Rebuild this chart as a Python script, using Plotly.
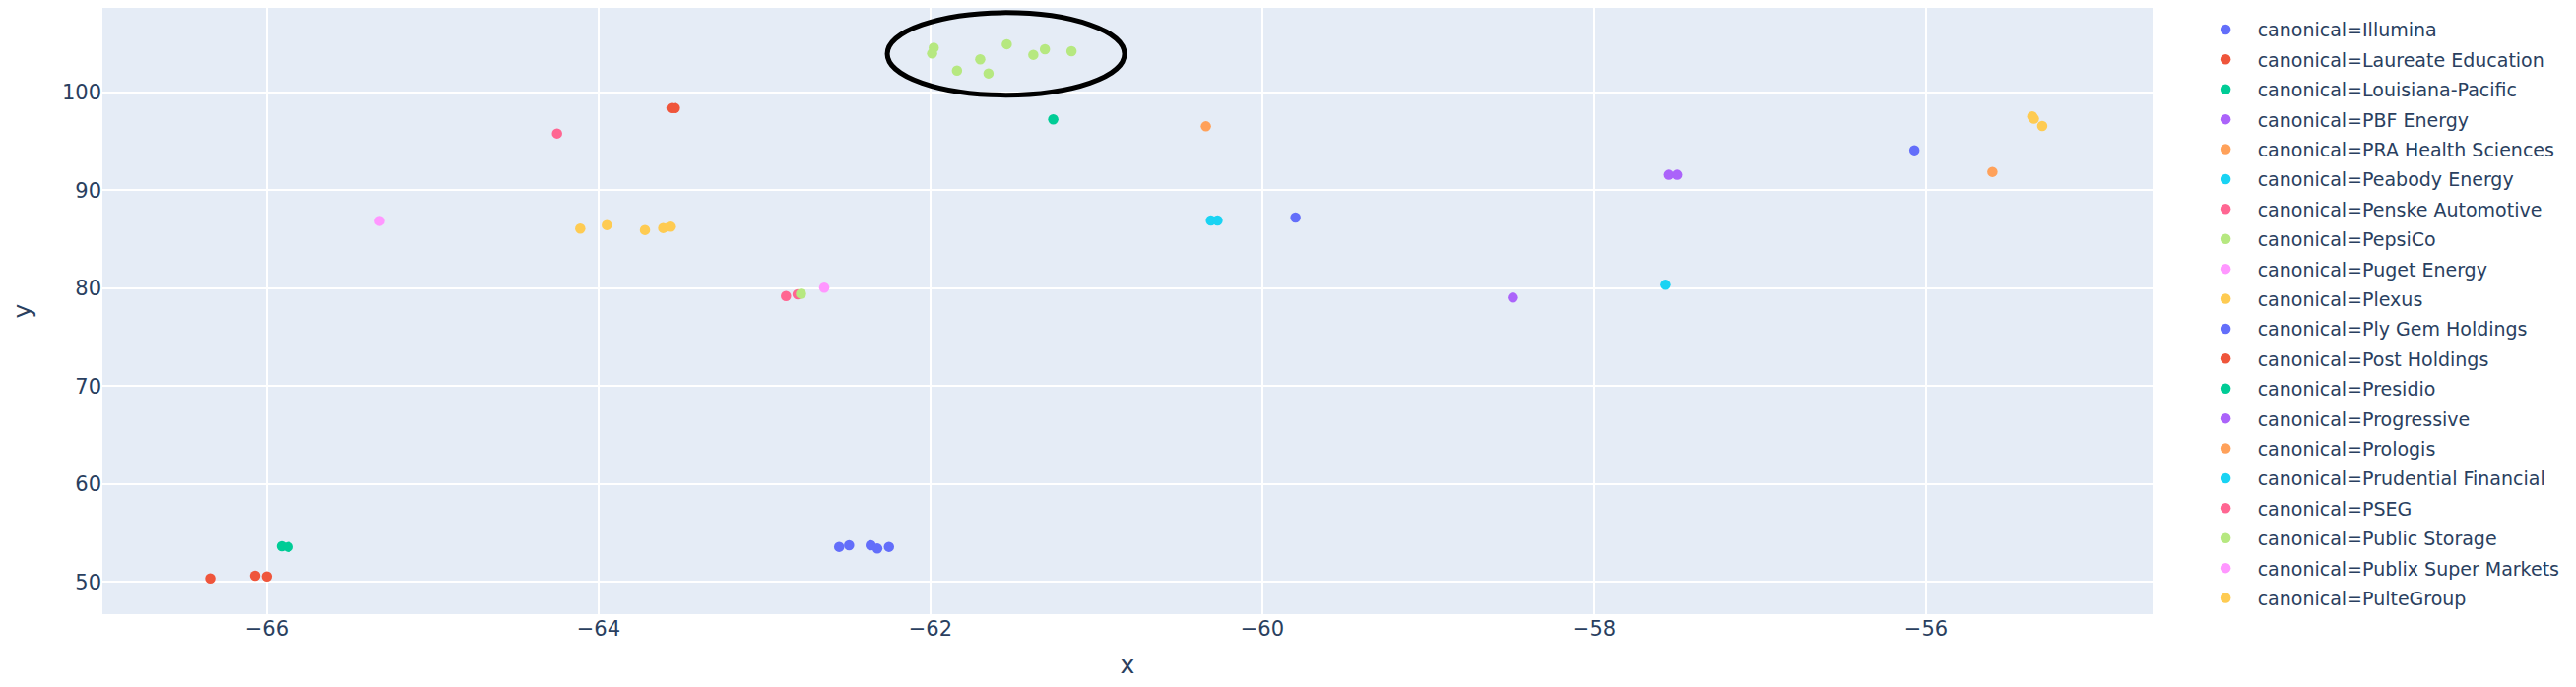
import plotly.graph_objects as go

# --- data (one list per company) ---
companies = [
    "Illumina", "Laureate Education", "Louisiana-Pacific", "PBF Energy",
    "PRA Health Sciences", "Peabody Energy", "Penske Automotive", "PepsiCo",
    "Puget Energy", "Plexus", "Ply Gem Holdings", "Post Holdings", "Presidio",
    "Progressive", "Prologis", "Prudential Financial", "PSEG", "Public Storage",
    "Publix Super Markets", "PulteGroup",
]

illumina_x = [-59.80, -56.07]
illumina_y = [87.23, 94.10]
laureate_x = [-63.56, -63.54]
laureate_y = [98.42, 98.42]
louisiana_x = [-61.26]
louisiana_y = [97.25]
pbf_x = [-58.49]
pbf_y = [79.05]
pra_x = [-60.34]
pra_y = [96.54]
peabody_x = [-60.31, -60.27]
peabody_y = [86.93, 86.93]
penske_x = [-64.25]
penske_y = [95.81]
pepsico_x = [-61.98, -61.99, -61.84, -61.70, -61.65, -61.54, -61.38, -61.31, -61.15]
pepsico_y = [104.58, 103.98, 102.24, 103.38, 101.94, 104.93, 103.85, 104.42, 104.22]
puget_x = [-65.32]
puget_y = [86.89]
plexus_x = [-64.11, -63.95, -63.72, -63.61, -63.57]
plexus_y = [86.09, 86.46, 85.96, 86.16, 86.29]
plygem_x = [-62.55, -62.49, -62.36, -62.32, -62.25]
plygem_y = [53.59, 53.76, 53.76, 53.42, 53.59]
post_x = [-66.34, -66.07, -66.00]
post_y = [50.37, 50.64, 50.57]
presidio_x = [-65.91, -65.87]
presidio_y = [53.66, 53.59]
progressive_x = [-57.55, -57.50]
progressive_y = [91.59, 91.59]
prologis_x = [-55.60]
prologis_y = [91.89]
prudential_x = [-57.57]
prudential_y = [80.36]
pseg_x = [-62.87, -62.80]
pseg_y = [79.22, 79.39]
public_storage_x = [-62.78]
public_storage_y = [79.45]
publix_x = [-62.64]
publix_y = [80.06]
pulte_x = [-55.36, -55.35, -55.30]
pulte_y = [97.55, 97.32, 96.58]

series = [
    (illumina_x, illumina_y), (laureate_x, laureate_y), (louisiana_x, louisiana_y),
    (pbf_x, pbf_y), (pra_x, pra_y), (peabody_x, peabody_y), (penske_x, penske_y),
    (pepsico_x, pepsico_y), (puget_x, puget_y), (plexus_x, plexus_y),
    (plygem_x, plygem_y), (post_x, post_y), (presidio_x, presidio_y),
    (progressive_x, progressive_y), (prologis_x, prologis_y),
    (prudential_x, prudential_y), (pseg_x, pseg_y),
    (public_storage_x, public_storage_y), (publix_x, publix_y), (pulte_x, pulte_y),
]

palette = ["#636EFA", "#EF553B", "#00CC96", "#AB63FA", "#FFA15A",
           "#19D3F3", "#FF6692", "#B6E880", "#FF97FF", "#FECB52"]

fig = go.Figure()
for i, (name, (xs, ys)) in enumerate(zip(companies, series)):
    label = f"canonical={name}"
    fig.add_trace(go.Scatter(
        x=xs, y=ys, mode="markers",
        name=label, legendgroup=label,
        marker=dict(color=palette[i % len(palette)], size=10.5),
    ))

# circle around the PepsiCo cluster
fig.add_shape(type="circle", xref="x", yref="y",
              x0=-62.26, x1=-60.83, y0=99.73, y1=108.15,
              line=dict(color="black", width=5))

fig.update_layout(
    template="plotly",
    width=2600, height=682,
    margin=dict(l=96, r=422, t=0, b=66),
    font=dict(family="DejaVu Sans", size=21),
    xaxis=dict(title=dict(text="x", font=dict(size=25), standoff=27),
               automargin=False,
               range=[-66.99, -54.635], gridwidth=1.75, zeroline=False),
    yaxis=dict(title=dict(text="y", font=dict(size=25), standoff=30),
               automargin=False,
               range=[46.72, 108.64], gridwidth=1.75, zeroline=False),
    legend=dict(itemwidth=55, font=dict(size=19), tracegroupgap=2.7,
                maxheight=682, y=0.995),
)

fig.write_html("out.html")
